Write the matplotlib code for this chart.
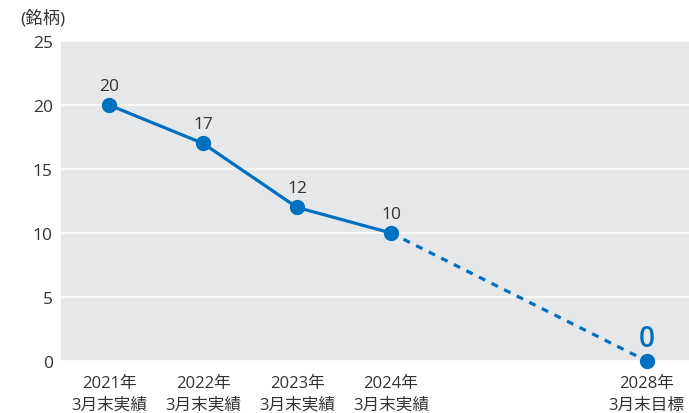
import matplotlib
matplotlib.use("Agg")
import matplotlib.pyplot as plt

plt.rcParams['font.family'] = ['Open Sans', 'Noto Sans CJK JP', 'DejaVu Sans']

# データ
labels = ['2021年\n3月末実績', '2022年\n3月末実績', '2023年\n3月末実績', '2024年\n3月末実績', '2028年\n3月末目標']
actual = [20, 17, 12, 10]
target = 0

# 横位置（2024年と2028年の間は詰めて表示）
xpos = [0, 1, 2, 3, 5.72]

blue = '#0070c0'
text_col = '#333333'

fig = plt.figure(figsize=(6.89, 4.14), dpi=100)
ax = fig.add_axes([0.0885, 0.1256, 0.9115, 0.773])
ax.set_facecolor('#e6e7e9')

ax.set_xlim(-0.511, 6.17)
ax.set_ylim(0, 25)
ax.set_yticks(range(0, 26, 5))
ax.yaxis.grid(True, color='white', linewidth=1.2)
ax.set_axisbelow(True)
for s in ax.spines.values():
    s.set_visible(False)

# 実績（実線）
ax.plot(xpos[:4], actual, color=blue, linewidth=2.3, marker='o', markersize=10, zorder=3)
# 目標（点線）
ax.plot([xpos[3], xpos[4]], [actual[-1], target], color=blue, linewidth=2.3,
        linestyle=(0, (2.2, 2.2)), zorder=2)
ax.plot([xpos[4]], [target], color=blue, marker='o', markersize=10, zorder=3, clip_on=False)

for x, v in zip(xpos[:4], actual):
    ax.annotate(str(v), (x, v), xytext=(0, 8), textcoords='offset points',
                ha='center', va='bottom', fontsize=12.5, color=text_col)
ax.annotate(str(target), (xpos[4], target), xytext=(0, 6), textcoords='offset points',
            ha='center', va='bottom', fontsize=20, fontweight='semibold', color=blue)

ax.set_xticks(xpos)
ax.set_xticklabels(labels, fontsize=12, color=text_col, linespacing=1.5)
ax.tick_params(axis='both', length=0, labelsize=12, labelcolor=text_col)
ax.tick_params(axis='y', labelsize=12.5, pad=6)
ax.tick_params(axis='x', pad=10)

fig.text(0.029, 0.955, '(銘柄)', fontsize=12.5, color=text_col, ha='left', va='center')

fig.savefig('out.png', dpi=100)
